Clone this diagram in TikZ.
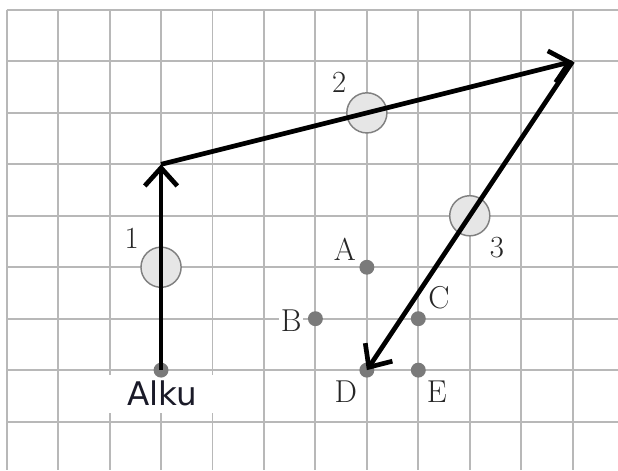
\documentclass[tikz,border=0pt]{standalone}
\usepackage{fontspec}
\newfontfamily\alkufont{DejaVu Sans}
\usetikzlibrary{arrows.meta}
\definecolor{gridgray}{HTML}{B8B8B8}
\definecolor{ptgray}{HTML}{7A7A7A}
\definecolor{circfill}{HTML}{E6E6E6}
\definecolor{circdraw}{HTML}{808080}
\definecolor{alkucol}{HTML}{1A1A28}
\tikzset{
  gridline/.style={draw=gridgray, line width=1.1pt},
  gpoint/.style={circle, fill=ptgray, minimum size=0.29cm, inner sep=0pt},
  bigcirc/.style={circle, fill=circfill, draw=circdraw, line width=0.8pt, minimum size=0.78cm, inner sep=0pt},
  vec/.style={line width=2.6pt, -{Straight Barb[length=10pt, width=18pt, line width=2.6pt]}},
  lbl/.style={font=\fontsize{17.5}{20}\selectfont, text=black!85, fill=white, inner sep=1pt},
  numlbl/.style={font=\fontsize{17}{20}\selectfont, text=black!85, inner sep=1pt},
}
\begin{document}
\begin{tikzpicture}
\useasboundingbox (-0.130,-8.941) rectangle (11.881,0.194);
\fill[white] (-0.130,-8.941) rectangle (11.881,0.194);
% grid
\foreach \k in {0,...,11} \draw[gridline] (\k,0) -- (\k,-8.941);
\foreach \j in {0,...,8} \draw[gridline] (0,-\j) -- (11.881,-\j);
% Alku label box
\node[fill=white, minimum width=2.06cm, minimum height=0.74cm, inner sep=0pt, text=alkucol,
      font=\alkufont\fontsize{18}{21}\selectfont] (alku) at (3.02,-7.46) {Alku};
% points
\node[gpoint] (S) at (3,-7) {};
\node[gpoint] (A) at (7,-5) {};
\node[gpoint] (B) at (6,-6) {};
\node[gpoint] (C) at (8,-6) {};
\node[gpoint] (D) at (7,-7) {};
\node[gpoint] (E) at (8,-7) {};
\coordinate (P1) at (3,-3);
\coordinate (P2) at (11,-1);
% big circles
\node[bigcirc] (c1) at (3,-5) {};
\node[bigcirc] (c2) at (7,-2) {};
\node[bigcirc] (c3) at (9,-4) {};
% point labels
\node[lbl] at (6.57,-4.65) {A};
\node[lbl] at (5.53,-6.03) {B};
\node[lbl] at (8.40,-5.60) {C};
\node[lbl] at (6.59,-7.41) {D};
\node[lbl] at (8.36,-7.41) {E};
% circle labels
\node[numlbl] at (2.43,-4.43) {1};
\node[numlbl] at (6.46,-1.40) {2};
\node[numlbl] at (9.53,-4.61) {3};
% vectors
\draw[vec] (S.center) -- (P1);
\draw[vec] (P1) -- (P2);
\draw[vec] (P2) -- (D.center);
\end{tikzpicture}
\end{document}
